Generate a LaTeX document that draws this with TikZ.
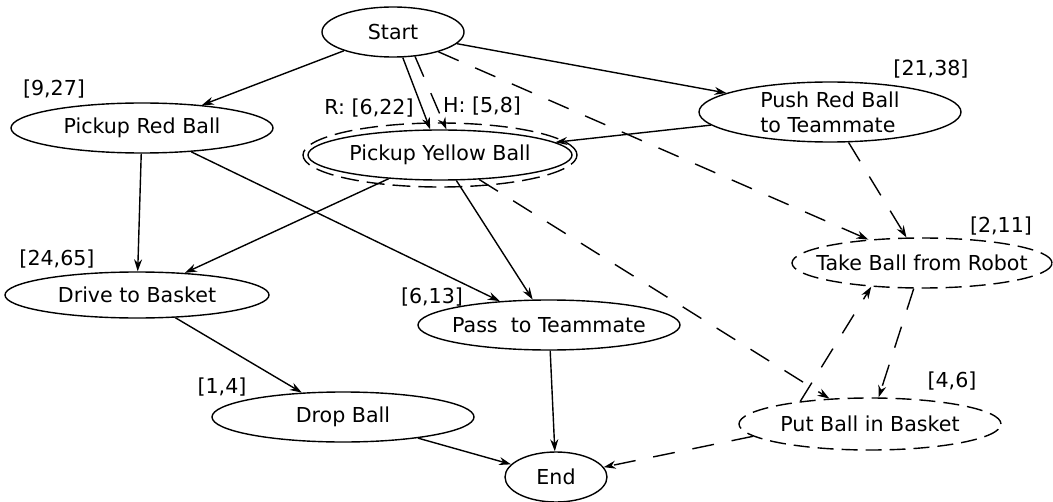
\documentclass[tikz,border=0pt]{standalone}
\usepackage{fontspec}
\setmainfont{DejaVu Sans}
\usepackage{xcolor}
\usepackage{tikz}
\usetikzlibrary{arrows.meta,calc,positioning,shapes.geometric}
\definecolor{PlanInk}{HTML}{000000}
\tikzset{
  >={Stealth[length=6pt,width=4pt]},
  taskbox/.style={ellipse,draw=PlanInk,line width=0.7pt,inner sep=0pt,
    minimum width=131pt,minimum height=25pt,align=center,
    font=\fontsize{10.3}{12.5}\selectfont},
  optbox/.style={taskbox,dash pattern=on 8pt off 4pt},
  ringline/.style={draw=PlanInk,line width=0.7pt,dash pattern=on 9pt off 4pt},
  flow/.style={->,line width=0.7pt,draw=PlanInk},
  optflow/.style={flow,dash pattern=on 11pt off 9pt},
  note/.style={inner sep=0pt,font=\fontsize{10.3}{12.5}\selectfont,text=PlanInk}
}

\begin{document}
\begin{tikzpicture}[x=0.5pt,y=-0.5pt]
  \useasboundingbox (0,0) rectangle (1053,502);
  \node[taskbox,minimum width=71pt] (start) at (393,32) {Start};
  \node[taskbox,minimum width=132pt] (yellow) at (440,155) {Pickup Yellow Ball};
  \draw[ringline] (yellow.center) ellipse [x radius=68.5pt,y radius=16pt];
  \node[taskbox] (red) at (142,128) {Pickup Red Ball};
  \node[taskbox,minimum height=30pt,align=left] (push) at (830,112) {Push Red Ball\\to Teammate};
  \node[taskbox,minimum width=132pt,minimum height=23pt] (drive) at (137,295) {Drive to Basket};
  \node[optbox,minimum width=130pt,inner xsep=-9pt] (take) at (922,263) {Take Ball from Robot};
  \node[taskbox,inner xsep=-4pt] (pass) at (549,325) {Pass\ \ to Teammate};
  \node[taskbox] (drop) at (343,417) {Drop Ball};
  \node[optbox,minimum height=26pt] (put) at (870,424) {Put Ball in Basket};
  \node[taskbox,minimum width=51pt] (finish) at (556,477) {End};
  \foreach \name/\x/\y/\cost in {redcost/54/89/{[9,27]},drivecost/57/259/{[24,65]},
      pushcost/931/69/{[21,38]},takecost/1001/226/{[2,11]},putcost/952/381/{[4,6]},
      passcost/432/297/{[6,13]},dropcost/222/387/{[1,4]}}
    \node[note] (\name) at (\x,\y) {\cost};
  \node[note] (robotcost) at (369,108) {R: [6,22]};
  \node[note] (humancost) at (482,106) {H: [5,8]};
  \draw[flow] (start) -- (red);
  \draw[flow] (start) -- (yellow);
  \draw[optflow] (start.312) -- (yellow.76);
  \draw[flow] (start) -- (push);
  \draw[optflow] (start) -- (take);
  \draw[flow] (push) -- (yellow);
  \draw[optflow] (push) -- (take);
  \draw[flow] (red) -- (drive);
  \draw[flow] (red) -- (pass);
  \draw[flow] (yellow) -- (drive);
  \draw[flow] (yellow) -- (pass);
  \draw[optflow] (yellow) -- (put);
  \draw[flow] (drive) -- (drop);
  \draw[flow] (drop) -- (finish);
  \draw[flow] (pass) -- (finish);
  \draw[optflow] (take) -- (put);
  \draw[optflow] (put.162) -- (take.205);
  \draw[optflow] (put.186) -- (finish);
\end{tikzpicture}
\end{document}
